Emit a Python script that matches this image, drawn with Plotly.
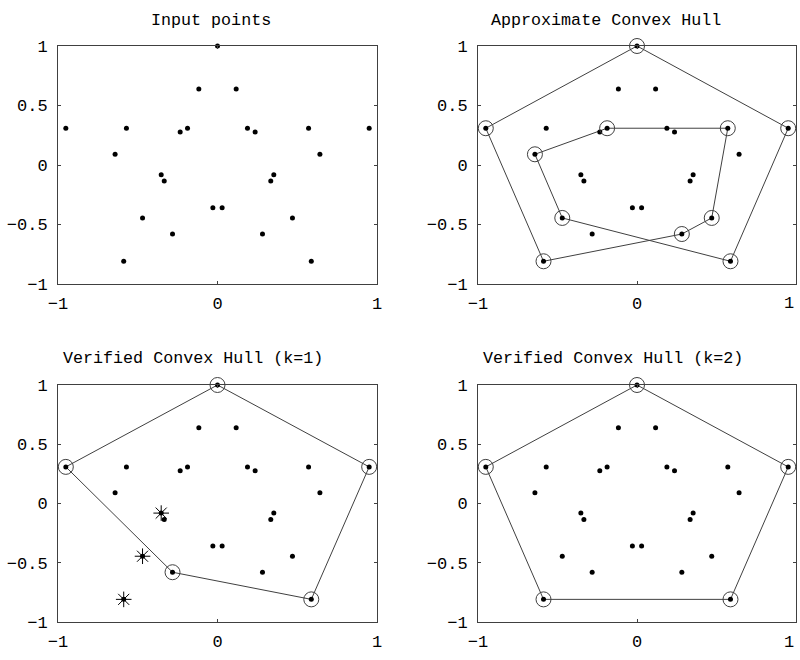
import plotly.graph_objects as go

# Input points (25)
pts_x = [0.0, -0.117, 0.117, -0.951, -0.571, -0.642, -0.234, -0.188, 0.188, 0.236,
         0.571, 0.951, 0.642, -0.353, -0.334, 0.334, 0.353, -0.029, 0.029, -0.470,
         0.470, -0.282, 0.282, -0.588, 0.588]
pts_y = [1.0, 0.639, 0.639, 0.309, 0.309, 0.090, 0.277, 0.309, 0.309, 0.277,
         0.309, 0.309, 0.090, -0.081, -0.134, -0.134, -0.081, -0.359, -0.359, -0.445,
         -0.445, -0.580, -0.580, -0.809, -0.809]

# Approximate convex hull (closed path)
approx_x = [-0.951, 0.0, 0.951, 0.588, -0.470, -0.642, -0.188, 0.571, 0.470, 0.282, -0.588]
approx_y = [0.309, 1.0, 0.309, -0.809, -0.445, 0.090, 0.309, 0.309, -0.445, -0.580, -0.809]

# Verified convex hull k=1
hull1_x = [0.0, 0.951, 0.588, -0.282, -0.951]
hull1_y = [1.0, 0.309, -0.809, -0.580, 0.309]
stars_x = [-0.353, -0.470, -0.588]
stars_y = [-0.081, -0.445, -0.809]

# Verified convex hull k=2
hull2_x = [0.0, 0.951, 0.588, -0.588, -0.951]
hull2_y = [1.0, 0.309, -0.809, -0.809, 0.309]

titles = ["Input points", "Approximate Convex Hull",
          "Verified Convex Hull (k=1)", "Verified Convex Hull (k=2)"]
xtick_vals = [-1, 0, 1]
xtick_text = ["\u22121", "0", "1"]
ytick_vals = [-1, -0.5, 0, 0.5, 1]
ytick_text = ["\u22121", "\u22120.5", "0", "0.5", "1"]

W, H = 800, 660
OFF = 0  # body margin removed via post_script
ML, MR, MT, MB = 20, 0, 20, 20
PW, PH = W - ML - MR, H - MT - MB
LINE = "#404040"
MONO = "Liberation Mono"


def fx(X):
    return (X - OFF - ML) / PW


def fy(Y):
    return 1 - (Y - OFF - MT) / PH


fig = go.Figure()

# panel screen boxes: (left, right, top, bottom)
boxes = [(58, 377, 46, 284), (478, 796, 46, 284),
         (58, 377, 385, 622), (478, 796, 385, 622)]
title_pos = [(211, 21), (606, 21), (193, 358), (613, 358)]
xlabel_y = [303, 303, 642, 642]


def closed(v):
    return list(v) + [v[0]]


hulls = [None, (approx_x, approx_y), (hull1_x, hull1_y), (hull2_x, hull2_y)]

for i, (l, r, t, b) in enumerate(boxes):
    n = "" if i == 0 else str(i + 1)
    xa = "x" + n
    ya = "y" + n
    right_col = (i % 2 == 1)
    common = dict(showgrid=False, zeroline=False, showline=True, linecolor=LINE,
                  linewidth=1, mirror="ticks", ticks="inside", ticklen=3,
                  tickcolor=LINE, tickwidth=1, range=[-1, 1], automargin=False,
                  tickfont=dict(family=MONO, size=17, color="black"))
    xt = list(xtick_text)
    if right_col:
        xt[-1] = ""  # drawn below as right-aligned text so it stays inside the page
    fig.layout["xaxis" + n] = dict(common, domain=[fx(l), fx(r)], anchor=ya,
                                  tickvals=xtick_vals, ticktext=xt,
                                  ticklabelstandoff=4)
    fig.layout["yaxis" + n] = dict(common, domain=[fy(b), fy(t)], anchor=xa,
                                  tickvals=ytick_vals, ticktext=ytick_text,
                                  ticklabelstandoff=6)
    if right_col:
        fig.add_annotation(text=xtick_text[-1], x=xtick_vals[-1], xref=xa,
                           y=fy(xlabel_y[i]), yref="paper", showarrow=False,
                           xanchor="right", yanchor="middle",
                           font=dict(family=MONO, size=17, color="black"))
    fig.add_annotation(text=titles[i], x=fx(title_pos[i][0]), y=fy(title_pos[i][1]),
                       xref="paper", yref="paper", showarrow=False,
                       xanchor="center", yanchor="middle",
                       font=dict(family=MONO, size=16.7, color="black"))

    if hulls[i] is not None:
        hx, hy = hulls[i]
        fig.add_trace(go.Scatter(x=closed(hx), y=closed(hy), mode="lines",
                                 line=dict(color=LINE, width=1), xaxis=xa, yaxis=ya,
                                 hoverinfo="skip"))

    fig.add_trace(go.Scatter(x=pts_x, y=pts_y, mode="markers",
                             marker=dict(color="black", size=5, symbol="circle"),
                             xaxis=xa, yaxis=ya, cliponaxis=False))

    if hulls[i] is not None:
        hx, hy = hulls[i]
        fig.add_trace(go.Scatter(x=hx, y=hy, mode="markers",
                                 marker=dict(size=15, symbol="circle-open",
                                             color=LINE, line=dict(color=LINE, width=1)),
                                 xaxis=xa, yaxis=ya, cliponaxis=False))
    if i == 2:
        fig.add_trace(go.Scatter(x=stars_x, y=stars_y, mode="markers",
                                 marker=dict(size=13, symbol="asterisk-open",
                                             color="black", line=dict(color="black", width=1)),
                                 xaxis=xa, yaxis=ya, cliponaxis=False))

fig.update_layout(width=W, height=H, margin=dict(l=ML, r=MR, t=MT, b=MB, autoexpand=False),
                  autosize=False, paper_bgcolor="white", plot_bgcolor="white",
                  showlegend=False)

fig.write_html("out.html", config={"displayModeBar": False},
               post_script="document.body.style.margin='0';document.body.style.overflow='hidden';")
